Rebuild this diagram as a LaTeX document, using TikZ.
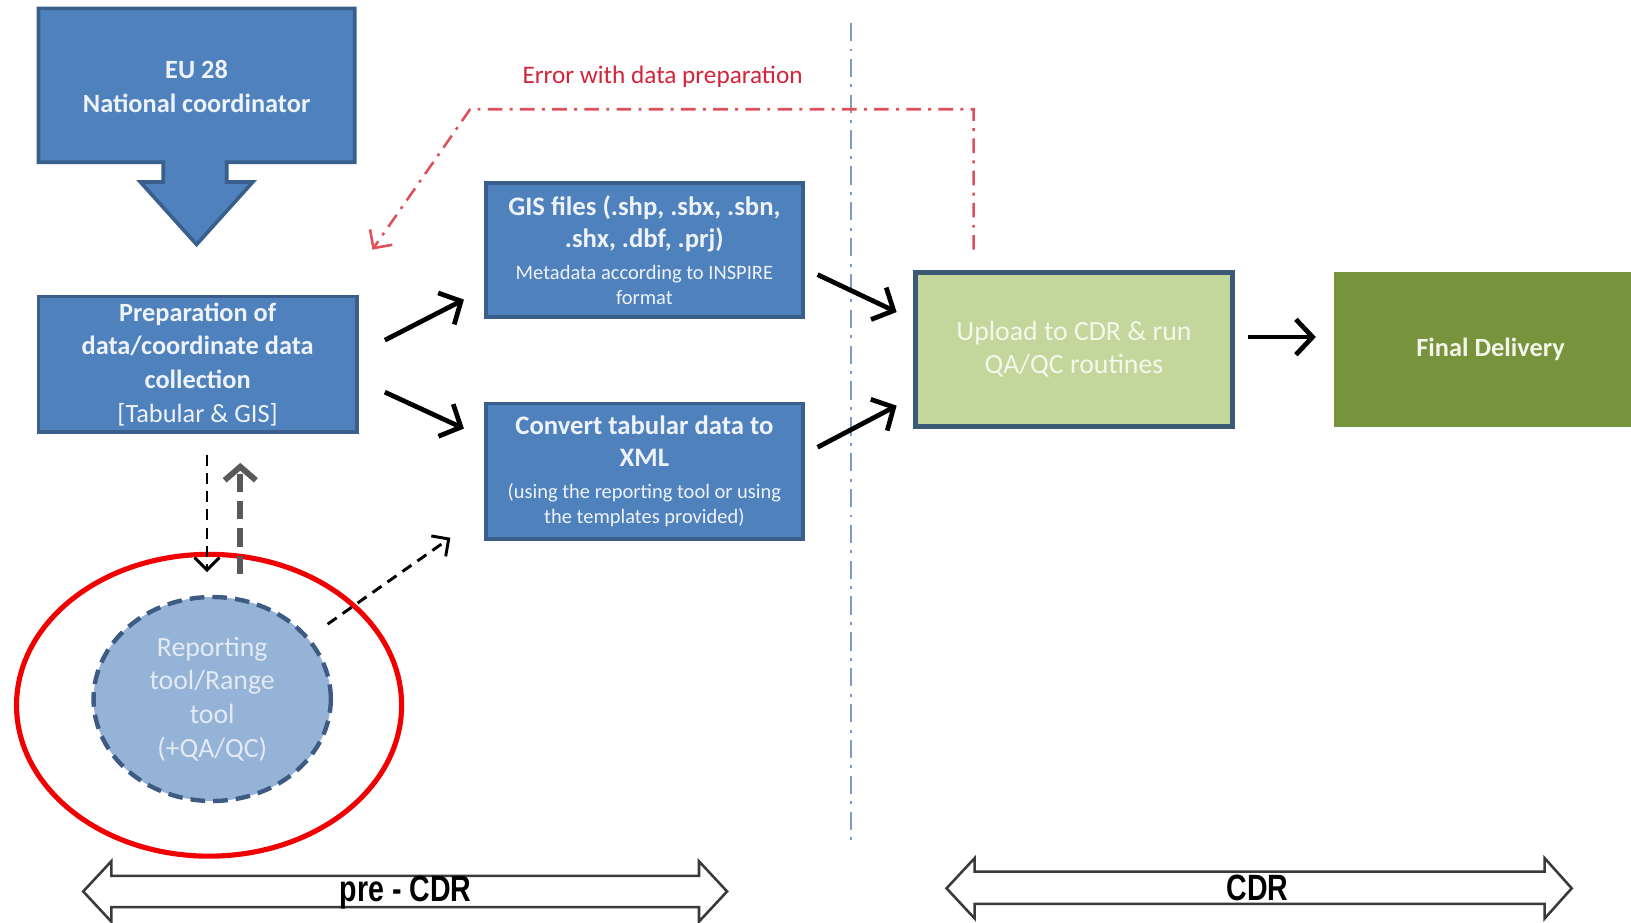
\documentclass[tikz,border=0pt]{standalone}
\usepackage{fontspec}
\setmainfont{Carlito}
\newfontfamily\arialfam{Liberation Sans}
\usetikzlibrary{arrows.meta,shapes.geometric}
\definecolor{boxblue}{HTML}{4F81BD}
\definecolor{boxedge}{HTML}{3A5F8C}
\definecolor{boxtext}{HTML}{EEF3FA}
\definecolor{ellfill}{HTML}{95B3D7}
\definecolor{elledge}{HTML}{3E5C83}
\definecolor{elltext}{HTML}{E2EAF4}
\definecolor{upfill}{HTML}{C3D69B}
\definecolor{upedge}{HTML}{3C5A78}
\definecolor{uptext}{HTML}{F4F8EA}
\definecolor{finfill}{HTML}{77933C}
\definecolor{fintext}{HTML}{F2F5EA}
\definecolor{errtext}{HTML}{D3243A}
\definecolor{errline}{HTML}{E0505A}
\definecolor{sepline}{HTML}{7A9CC6}
\definecolor{upgray}{HTML}{595959}
\definecolor{redring}{HTML}{F00000}
\definecolor{bandedge}{HTML}{3A3A3A}
\newcommand\szbold{\fontsize{7.2}{9.2}\selectfont\bfseries}
\newcommand\szmixed{\fontsize{7.3}{8.7}\selectfont}
\newcommand\szsmall{\fontsize{5.6}{8.7}\selectfont\mdseries}
\begin{document}
\begin{tikzpicture}[x=0.01cm,y=-0.01cm,
  bluebox/.style={draw=boxedge,fill=boxblue,line width=1pt,minimum width=3.05cm,
    minimum height=1.29cm,align=center,text=boxtext,inner sep=1pt},
  blackarr/.style={line width=1.3pt,-{Straight Barb[length=1.6mm,width=3.4mm]}},
  dasharr/.style={line width=0.8pt,dash pattern=on 3pt off 2pt,-{Straight Barb[length=1.2mm,width=2.4mm]}},
  bandtext/.style={font=\arialfam\bfseries\fontsize{10}{12}\selectfont,inner sep=0pt}
]
\useasboundingbox (0,0) rectangle (1568,887);
\clip (0,0) rectangle (1568,887);

% separator
\draw[sepline,line width=0.6pt,dash pattern=on 5pt off 2pt on 0.8pt off 2pt] (818,22) -- (818,812);

% EU 28 block arrow
\draw[draw=boxedge,fill=boxblue,line width=1pt,line join=miter]
  (37,8) -- (341,8) -- (341,156) -- (218,156) -- (218,175) -- (243,175) -- (189,235)
  -- (135,175) -- (157,175) -- (157,156) -- (37,156) -- cycle;
\node[text=boxtext,align=center,font=\szbold] (eu) at (189,83) {EU 28\\National coordinator};

% boxes
\node[bluebox,minimum width=3.06cm,minimum height=1.30cm,font=\szbold] (prep) at (190,350)
  {Preparation of\\data/coordinate data\\collection\\{\mdseries [Tabular \& GIS]}};
\node[bluebox,font=\szmixed] (gis) at (619.5,240.5)
  {{\bfseries GIS files (.shp, .sbx, .sbn,}\\{\bfseries .shx, .dbf, .prj)}\\{\szsmall Metadata according to INSPIRE}\\[-1.8pt]{\szsmall format}};
\node[bluebox,minimum height=1.30cm,font=\szmixed] (conv) at (619.5,453)
  {{\bfseries Convert tabular data to}\\{\bfseries XML}\\{\szsmall (using the reporting tool or using}\\[-1.8pt]{\szsmall the templates provided)}};
\node[draw=upedge,fill=upfill,line width=1.5pt,minimum width=3.05cm,minimum height=1.48cm,
  align=center,text=uptext,font=\fontsize{7.6}{9.1}\selectfont] (up) at (1032.5,336)
  {Upload to CDR \& run\\QA/QC routines};
\node[fill=finfill,minimum width=3.0cm,minimum height=1.48cm,text=fintext,font=\szbold] (fin) at (1433,336)
  {Final Delivery};

% ellipse and red ring
\node[ellipse,draw=elledge,fill=ellfill,line width=1.2pt,dash pattern=on 4pt off 2.2pt,
  minimum width=2.28cm,minimum height=1.96cm,align=center,text=elltext,inner sep=0pt,
  font=\fontsize{7.6}{9.2}\selectfont] (rep) at (204,672)
  {Reporting\\tool/Range\\tool\\(+QA/QC)};
\node[ellipse,draw=redring,line width=1.4pt,minimum width=3.7cm,minimum height=2.9cm] (ring) at (201,678) {};

% solid arrows
\coordinate (a1s) at (370,327); \coordinate (a1e) at (446,288);
\coordinate (a2s) at (370,377); \coordinate (a2e) at (446,412);
\coordinate (a3s) at (786,264); \coordinate (a3e) at (862,300);
\coordinate (a4s) at (786,430); \coordinate (a4e) at (862,390);
\coordinate (a5s) at (1200,324); \coordinate (a5e) at (1265,324);
\draw[blackarr] (a1s) -- (a1e);
\draw[blackarr] (a2s) -- (a2e);
\draw[blackarr] (a3s) -- (a3e);
\draw[blackarr] (a4s) -- (a4e);
\draw[blackarr] (a5s) -- (a5e);

% dashed arrows
\coordinate (d1s) at (199,437); \coordinate (d1e) at (199,550);
\draw[dasharr] (d1s) -- (d1e);
\coordinate (d2s) at (231,552); \coordinate (d2e) at (231,445);
\draw[upgray,line width=1.6pt,dash pattern=on 5pt off 2.5pt,-{Straight Barb[length=1.3mm,width=3mm]}] (d2s) -- (d2e);
\coordinate (d3s) at (315,600); \coordinate (d3e) at (433,517);
\draw[dasharr] (d3s) -- (d3e);

% error loop
\coordinate (es) at (936,240); \coordinate (ee) at (358,240);
\draw[errline,line width=0.7pt,dash pattern=on 4pt off 2pt on 0.8pt off 2pt,
  -{Straight Barb[length=1.3mm,width=2.6mm]}] (es) -- (936,105) -- (452,105) -- (ee);
\node[text=errtext,font=\fontsize{6.9}{8}\selectfont] (err) at (637,74) {Error with data preparation};

% bottom bands
\draw[bandedge,line width=0.7pt,fill=white,line join=miter]
  (80,857) -- (107,828) -- (107,842) -- (672,842) -- (672,828) -- (699,857)
  -- (672,886) -- (672,872) -- (107,872) -- (107,886) -- cycle;
\node[bandtext] (pre) at (390,858) {\scalebox{0.78}[1]{pre - CDR}};
\draw[bandedge,line width=0.7pt,fill=white,line join=miter]
  (910,854) -- (937,825) -- (937,838) -- (1485,838) -- (1485,825) -- (1511,854)
  -- (1485,883) -- (1485,869) -- (937,869) -- (937,883) -- cycle;
\node[bandtext] (cdr) at (1209,854) {\scalebox{0.78}[1]{CDR}};
\end{tikzpicture}
\end{document}
